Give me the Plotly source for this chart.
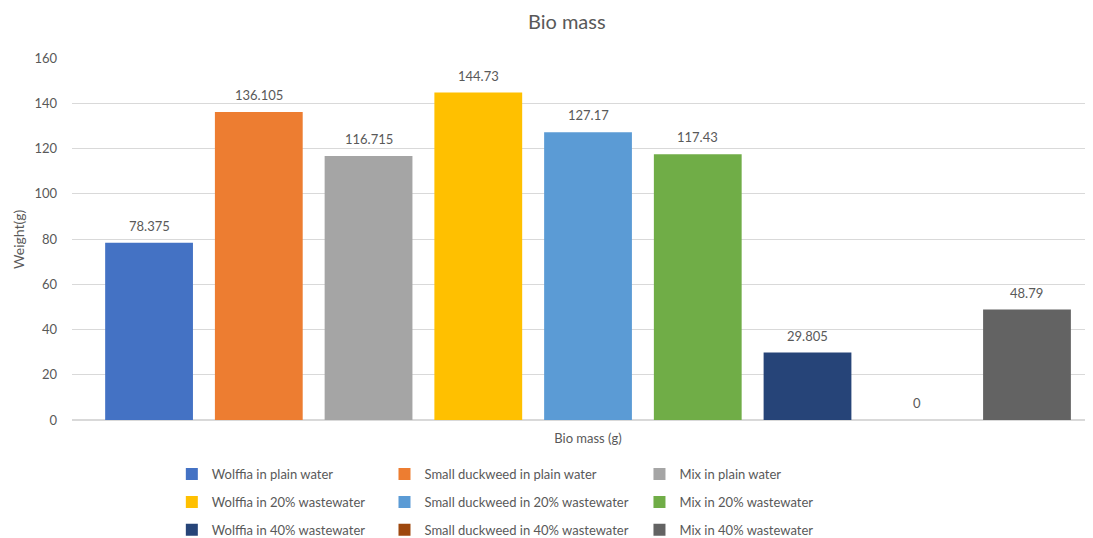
import plotly.graph_objects as go

series = ["Wolffia in plain water", "Small duckweed in plain water", "Mix in plain water",
          "Wolffia in 20% wastewater", "Small duckweed in 20% wastewater", "Mix in 20% wastewater",
          "Wolffia in 40% wastewater", "Small duckweed in 40% wastewater", "Mix in 40% wastewater"]
values = [78.375, 136.105, 116.715, 144.73, 127.17, 117.43, 29.805, 0, 48.79]
labels = ["78.375", "136.105", "116.715", "144.73", "127.17", "117.43", "29.805", "0", "48.79"]
colors = ["#4472C4", "#ED7D31", "#A5A5A5", "#FFC000", "#5B9BD5", "#70AD47", "#264478", "#9E480E", "#636363"]
category = ["Bio mass (g)"]

FONT = "Lato"
GREY = "#595959"
BARGAP = 0.043

fig = go.Figure()
legend_ids = ["legend", "legend2", "legend3"]
n = len(series)
slot = (1 - BARGAP) / n
for i, (s, v, lab, c) in enumerate(zip(series, values, labels, colors)):
    fig.add_trace(go.Bar(
        x=category, y=[v], name=s, marker=dict(color=c, line=dict(width=0)),
        legend=legend_ids[i % 3], legendgroup=s, legendrank=i,
        hovertemplate=s + ": %{y}<extra></extra>",
    ))
    # data label above the bar, placed on this series' slot of the category
    fig.add_annotation(x=-(1 - BARGAP) / 2 + (i + 0.5) * slot, y=v, xref="x", yref="y",
                       text=lab, showarrow=False, yshift=17, yanchor="middle",
                       font=dict(size=13, color=GREY, family=FONT))

fig.add_annotation(x=-0.053, y=0.5, xref="paper", yref="paper", text="Weight(g)",
                   textangle=-90, showarrow=False, xanchor="center", yanchor="middle",
                   font=dict(size=14, color=GREY, family=FONT))

leg_common = dict(orientation="v", font=dict(size=13, color=GREY, family=FONT),
                  tracegroupgap=8, xanchor="left", yanchor="top", xref="container", yref="container",
                  bgcolor="rgba(0,0,0,0)", itemwidth=30)
fig.update_layout(
    width=1085, height=530,
    barmode="group", bargap=BARGAP, bargroupgap=0.2,
    paper_bgcolor="white", plot_bgcolor="white",
    margin=dict(l=64, r=0, t=50, b=118, autoexpand=False),
    title=dict(text="Bio mass", x=0.515, xref="container", y=0.9736, yref="container",
               xanchor="center", yanchor="middle",
               font=dict(size=20, color=GREY, family=FONT)),
    font=dict(family=FONT, color=GREY),
    legend=dict(x=0.151, y=0.149, **leg_common),
    legend2=dict(x=0.347, y=0.149, **leg_common),
    legend3=dict(x=0.582, y=0.149, **leg_common),
    yaxis=dict(range=[0, 160], dtick=20, showgrid=True, gridcolor="#D9D9D9", gridwidth=1,
               zeroline=True, zerolinecolor="#D9D9D9", showline=False, automargin=False,
               tickfont=dict(size=13, color=GREY, family=FONT), ticks="", ticklen=0,
               ticklabelstandoff=14),
    xaxis=dict(showline=False, ticks="", automargin=False, range=[-0.5, 0.4893],
               ticklabelstandoff=9,
               tickfont=dict(size=13, color=GREY, family=FONT)),
)

fig.write_html("out.html")
